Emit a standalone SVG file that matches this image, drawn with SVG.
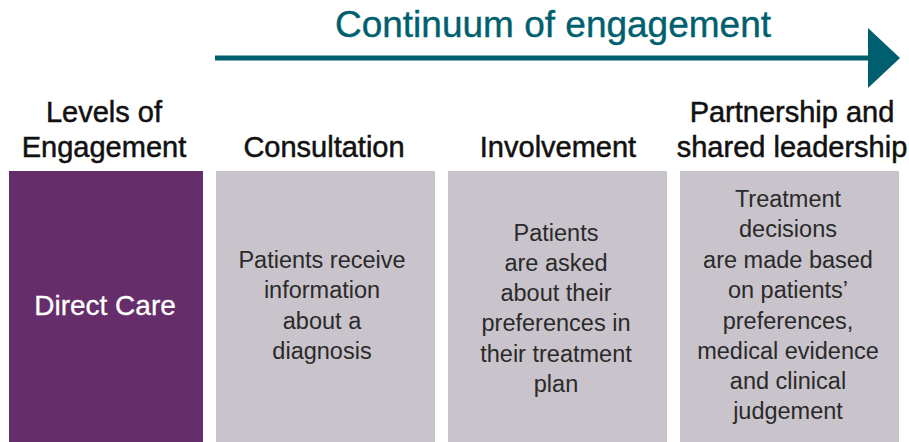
<svg xmlns="http://www.w3.org/2000/svg" width="909" height="442" viewBox="0 0 909 442">
<style>
.hd{font-family:"Liberation Sans",Arial,sans-serif;font-size:29px;fill:#111;stroke:#111;stroke-width:0.5;text-anchor:middle}
.bd{font-family:"Liberation Sans",Arial,sans-serif;font-size:23.5px;fill:#2a2a2a;text-anchor:middle}
.box{fill:#C9C3CB}
</style>
<rect width="909" height="442" fill="#fff"/>
<g id="continuum">
<text x="553" y="37" font-family="'Liberation Sans',Arial,sans-serif" font-size="37" fill="#005F6E" stroke="#005F6E" stroke-width="0.4" text-anchor="middle">Continuum of engagement</text>
</g>
<g id="connectors">
<line x1="215" y1="58" x2="872" y2="58" stroke="#005F6E" stroke-width="5"/>
<polygon points="868,28 900,58 868,88" fill="#005F6E"/>
</g>
<g id="levels">
<text class="hd" x="104" y="122">Levels of</text>
<text class="hd" x="104" y="157">Engagement</text>
<rect x="9" y="171" width="194" height="271" fill="#652D69"/>
<text x="105" y="315" font-family="'Liberation Sans',Arial,sans-serif" font-size="28" fill="#fff" stroke="#fff" stroke-width="0.3" text-anchor="middle">Direct Care</text>
</g>
<g id="consultation">
<text class="hd" x="324" y="157">Consultation</text>
<rect class="box" x="216" y="171" width="219" height="271"/>
<text class="bd" x="322" y="268">Patients receive</text>
<text class="bd" x="322" y="298">information</text>
<text class="bd" x="322" y="329">about a</text>
<text class="bd" x="322" y="359">diagnosis</text>
</g>
<g id="involvement">
<text class="hd" x="558" y="157">Involvement</text>
<rect class="box" x="448" y="171" width="219" height="271"/>
<text class="bd" x="556" y="241">Patients</text>
<text class="bd" x="556" y="271">are asked</text>
<text class="bd" x="556" y="301">about their</text>
<text class="bd" x="556" y="331">preferences in</text>
<text class="bd" x="556" y="362">their treatment</text>
<text class="bd" x="556" y="392">plan</text>
</g>
<g id="partnership">
<text class="hd" x="792" y="122">Partnership and</text>
<text class="hd" x="792" y="157">shared leadership</text>
<rect class="box" x="680" y="171" width="219" height="271"/>
<text class="bd" x="788" y="207">Treatment</text>
<text class="bd" x="788" y="237">decisions</text>
<text class="bd" x="788" y="268">are made based</text>
<text class="bd" x="788" y="298">on patients’</text>
<text class="bd" x="788" y="329">preferences,</text>
<text class="bd" x="788" y="359">medical evidence</text>
<text class="bd" x="788" y="389">and clinical</text>
<text class="bd" x="788" y="419">judgement</text>
</g>
</svg>
